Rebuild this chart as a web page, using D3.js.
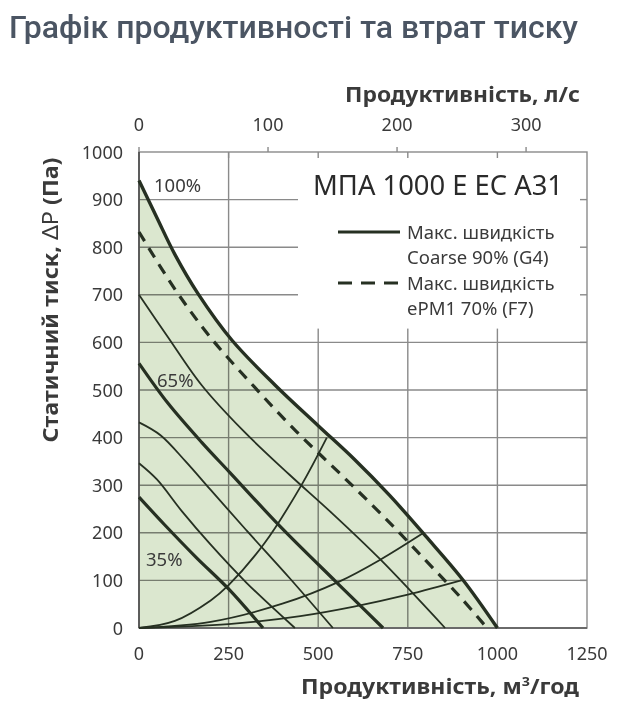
<!DOCTYPE html>
<html>
<head>
<meta charset="utf-8">
<script src="https://cdn.jsdelivr.net/npm/d3@7"></script>
<style>
  html, body { margin: 0; padding: 0; background: #fff; }
  svg { display: block; }
</style>
</head>
<body>
<svg id="chart" width="626" height="712"></svg>
<script>
// ---------- data (flow m³/h, pressure Pa) ----------
const xTicks = [0, 250, 500, 750, 1000, 1250];
const yTicks = [0, 100, 200, 300, 400, 500, 600, 700, 800, 900, 1000];
const lsTicks = [0, 100, 200, 300];

// max speed curve (Coarse 90% G4) – 100%
const curve100 = [[0,940],[50,862],[100,785],[165,702],[260,604],[380,510],[500,425],[600,355],[700,278],[800,193],[904,101],[1000,0]];
// max speed ePM1 70% (F7) – dashed
const curveF7 = [[0,832],[100,712],[200,610],[320,508],[440,412],[560,325],[680,236],[800,142],[900,62],[971,0]];
// intermediate speed curves
const curveThin700 = [[0,700],[80,612],[175,510],[290,415],[420,322],[533,245],[672,145],[854,0]];
const curve65 = [[0,556],[81,472],[175,390],[253,327],[393,214],[551,96],[681,0]];
const curveThin432 = [[0,432],[60,405],[130,350],[200,290],[300,205],[420,105],[541,0]];
const curveThin346 = [[0,346],[50,312],[120,245],[200,175],[300,95],[435,0]];
const curve35 = [[0,275],[70,218],[160,148],[250,82],[346,0]];
// system (duct) curves
const sysA = [[0,0],[100,15],[200,58],[250,90],[350,178],[450,296],[524,400]];
const sysB = [[0,0],[200,13],[400,51],[560,98],[672,143],[792,199]];
const sysC = [[0,0],[250,8],[450,25],[600,45],[750,70],[904,101]];

const speedLabels = ["100%", "65%", "35%"];

const titleText = "Графік продуктивності та втрат тиску";
const modelText = "МПА 1000 E EC A31";
const legendItems = [
  { line1: "Макс. швидкість", line2: "Coarse 90% (G4)", dashed: false },
  { line1: "Макс. швидкість", line2: "ePM1 70% (F7)", dashed: true }
];

// ---------- drawing ----------
const svg = d3.select("#chart");
const x = d3.scaleLinear().domain([0, 1250]).range([139, 587]);
const y = d3.scaleLinear().domain([0, 1000]).range([628, 152]);
const xLs = d3.scaleLinear().domain([0, 1250 / 3.6]).range([139, 587]);

const FONT = "'Noto Sans', 'Open Sans', sans-serif";
const ink = "#263022";
const textCol = "#3a3a3a";

// title
svg.append("text")
  .attr("x", 9).attr("y", 38)
  .attr("font-family", "Roboto, sans-serif")
  .attr("font-weight", 500)
  .attr("font-size", 31)
  .attr("fill", "#4b5563")
  .attr("textLength", 569)
  .attr("lengthAdjust", "spacingAndGlyphs")
  .text(titleText);

const smooth = d3.curveCatmullRom.alpha(0.5);
const line = d3.line().x(d => x(d[0])).y(d => y(d[1])).curve(smooth);
const area = d3.area().x(d => x(d[0])).y0(y(0)).y1(d => y(d[1])).curve(smooth);

// green region under max curve
svg.append("path").datum(curve100)
  .attr("d", area).attr("fill", "#dbe7cf");

// grid
const grid = svg.append("g").style("mix-blend-mode", "multiply");
grid.selectAll("line.v").data(xTicks.slice(1, -1)).join("line")
  .attr("x1", d => x(d)).attr("x2", d => x(d))
  .attr("y1", y(0)).attr("y2", y(1000))
  .attr("stroke", "#8a8a8a").attr("stroke-width", 1.4);
grid.selectAll("line.h").data(yTicks.slice(1, -1)).join("line")
  .attr("x1", x(0)).attr("x2", x(1250))
  .attr("y1", d => y(d)).attr("y2", d => y(d))
  .attr("stroke", "#8a8a8a").attr("stroke-width", 1.4);

// white legend box covering grid
svg.append("rect")
  .attr("x", 298).attr("y", y(1000))
  .attr("width", x(1250) - 298).attr("height", y(629) - y(1000))
  .attr("fill", "#fff");

// frame
svg.append("rect")
  .attr("x", x(0)).attr("y", y(1000))
  .attr("width", x(1250) - x(0)).attr("height", y(0) - y(1000))
  .attr("fill", "none").attr("stroke", "#8a8a8a").attr("stroke-width", 1.4);

// frame ticks (inward) top & right, outward l/s ticks
const tk = svg.append("g").attr("stroke", "#8a8a8a").attr("stroke-width", 1.4);
tk.selectAll("line.tt").data(xTicks.slice(1, -1)).join("line")
  .attr("x1", d => x(d)).attr("x2", d => x(d)).attr("y1", y(1000)).attr("y2", y(1000) + 6);
tk.selectAll("line.tr").data(yTicks.slice(1, -1)).join("line")
  .attr("x1", x(1250)).attr("x2", x(1250) - 7).attr("y1", d => y(d)).attr("y2", d => y(d));
tk.selectAll("line.tl").data(lsTicks).join("line")
  .attr("x1", d => xLs(d)).attr("x2", d => xLs(d)).attr("y1", y(1000)).attr("y2", y(1000) - 5);

// left & bottom axes lines (darker)
svg.append("line").attr("x1", x(0)).attr("x2", x(0)).attr("y1", y(0)).attr("y2", y(1000))
  .attr("stroke", "#4a4a4a").attr("stroke-width", 1.6);
svg.append("line").attr("x1", x(0)).attr("x2", x(1250)).attr("y1", y(0)).attr("y2", y(0))
  .attr("stroke", "#6a6a6a").attr("stroke-width", 1.8);

// system curves
[sysA, sysB, sysC].forEach(c => {
  svg.append("path").datum(c).attr("d", line)
    .attr("fill", "none").attr("stroke", ink).attr("stroke-width", 1.8);
});

// thin speed curves
[curveThin700, curveThin432, curveThin346].forEach(c => {
  svg.append("path").datum(c).attr("d", line)
    .attr("fill", "none").attr("stroke", ink).attr("stroke-width", 1.8);
});
// thick speed curves
[curve65, curve35].forEach(c => {
  svg.append("path").datum(c).attr("d", line)
    .attr("fill", "none").attr("stroke", ink).attr("stroke-width", 3.2);
});
// dashed F7
svg.append("path").datum(curveF7).attr("d", line)
  .attr("fill", "none").attr("stroke", ink).attr("stroke-width", 3.2)
  .attr("stroke-dasharray", "11,8");
// max curve
svg.append("path").datum(curve100).attr("d", line)
  .attr("fill", "none").attr("stroke", ink).attr("stroke-width", 3.4);

// speed labels
const lblPos = { "100%": [154, 192], "65%": [157, 387], "35%": [146, 566] };
svg.selectAll("text.sp").data(speedLabels).join("text")
  .attr("x", d => lblPos[d][0]).attr("y", d => lblPos[d][1])
  .attr("font-family", FONT).attr("font-size", 18.5).attr("fill", textCol)
  .text(d => d);

// tick labels
svg.selectAll("text.yt").data(yTicks).join("text")
  .attr("x", 123).attr("y", d => y(d) + 6.5)
  .attr("text-anchor", "end")
  .attr("font-family", FONT).attr("font-size", 18).attr("fill", textCol)
  .text(d => d);
svg.selectAll("text.xt").data(xTicks).join("text")
  .attr("x", d => x(d)).attr("y", 660)
  .attr("text-anchor", "middle")
  .attr("font-family", FONT).attr("font-size", 18).attr("fill", textCol)
  .text(d => d);
svg.selectAll("text.lt").data(lsTicks).join("text")
  .attr("x", d => xLs(d)).attr("y", 131)
  .attr("text-anchor", "middle")
  .attr("font-family", FONT).attr("font-size", 18).attr("fill", textCol)
  .text(d => d);

// axis titles
svg.append("text").attr("x", 580).attr("y", 102).attr("text-anchor", "end")
  .attr("font-family", FONT).attr("font-weight", 700).attr("font-size", 21).attr("fill", textCol)
  .attr("textLength", 235).attr("lengthAdjust", "spacingAndGlyphs")
  .text("Продуктивність, л/с");
const bt = svg.append("text").attr("x", 579).attr("y", 694).attr("text-anchor", "end")
  .attr("font-family", FONT).attr("font-weight", 700).attr("font-size", 21).attr("fill", textCol)
  .attr("textLength", 278).attr("lengthAdjust", "spacingAndGlyphs");
bt.append("tspan").text("Продуктивність, м");
bt.append("tspan").attr("font-size", 13).attr("dy", -8).text("3");
bt.append("tspan").attr("dy", 8).text("/год");
const yt = svg.append("text")
  .attr("transform", "translate(58,300) rotate(-90)")
  .attr("text-anchor", "middle")
  .attr("font-family", FONT).attr("font-weight", 700).attr("font-size", 21).attr("fill", textCol)
  .attr("textLength", 285).attr("lengthAdjust", "spacingAndGlyphs");
yt.append("tspan").text("Статичний тиск, ");
yt.append("tspan").attr("font-weight", 400).text("ΔP");
yt.append("tspan").text(" (Па)");

// legend
svg.append("text").attr("x", 563).attr("y", 195).attr("text-anchor", "end")
  .attr("font-family", FONT).attr("font-size", 28).attr("fill", "#2a2a2a")
  .attr("textLength", 250).attr("lengthAdjust", "spacingAndGlyphs")
  .text(modelText);
const lg = svg.selectAll("g.lg").data(legendItems).join("g")
  .attr("transform", (d, i) => `translate(0,${i * 51})`);
lg.append("line").attr("x1", 338).attr("x2", 400).attr("y1", 232).attr("y2", 232)
  .attr("stroke", ink).attr("stroke-width", 3.2)
  .attr("stroke-dasharray", d => d.dashed ? "14,9" : null);
lg.append("text").attr("x", 407).attr("y", 239)
  .attr("font-family", FONT).attr("font-size", 18.5).attr("fill", textCol)
  .text(d => d.line1);
lg.append("text").attr("x", 407).attr("y", 264)
  .attr("font-family", FONT).attr("font-size", 18.5).attr("fill", textCol)
  .text(d => d.line2);
</script>
</body>
</html>
